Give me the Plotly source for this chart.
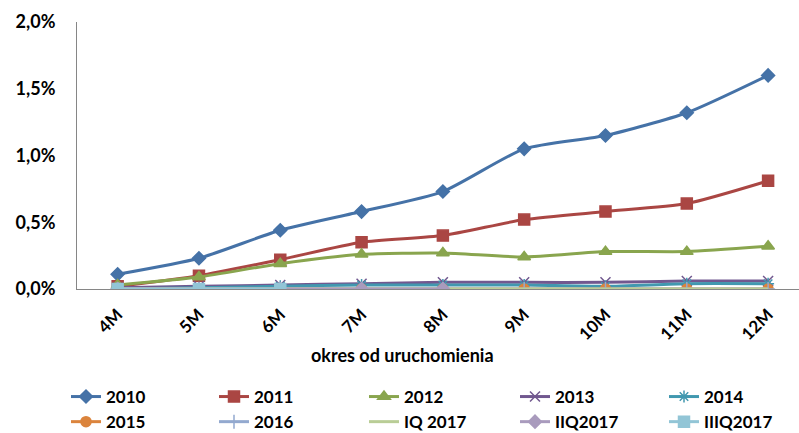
import plotly.graph_objects as go

# Months since launch
months = ["4M", "5M", "6M", "7M", "8M", "9M", "10M", "11M", "12M"]

# Cumulative share per cohort (fractions)
s2010 = [0.0011, 0.0023, 0.0044, 0.0058, 0.0073, 0.0105, 0.0115, 0.0132, 0.0160]
s2011 = [0.0002, 0.0010, 0.0022, 0.0035, 0.0040, 0.0052, 0.0058, 0.0064, 0.0081]
s2012 = [0.0003, 0.0009, 0.0019, 0.0026, 0.0027, 0.0024, 0.0028, 0.0028, 0.0032]
s2013 = [0.0001, 0.0002, 0.0003, 0.0004, 0.0005, 0.0005, 0.0005, 0.0006, 0.0006]
s2014 = [0.0000, 0.0001, 0.0002, 0.0003, 0.0003, 0.0003, 0.0002, 0.0004, 0.0004]
s2015 = [0.0000, 0.0000, 0.0000, 0.0000, 0.0000, 0.0000, 0.0000, 0.0000, 0.0000]
s2016 = [0.0000, 0.0000, 0.0000, 0.0000, 0.0000, 0.0000, 0.0000, 0.0000, 0.0000]
s_iq2017 = [0.0000, 0.0000, 0.0000, 0.0000, 0.0000, 0.0000, 0.0000, 0.0000, 0.0000]
s_iiq2017 = [0.0000, 0.0000, 0.0000, 0.0000, 0.0000]
s_iiiq2017 = [0.0000, 0.0000, 0.0000]

series = [
    ("2010", s2010, "#4572A7", "diamond", 10),
    ("2011", s2011, "#AA4643", "square", 11),
    ("2012", s2012, "#89A54E", "triangle-up", 11),
    ("2013", s2013, "#71588F", "x-thin-open", 10),
    ("2014", s2014, "#4198AF", "asterisk-open", 10),
    ("2015", s2015, "#DB843D", "circle", 10),
    ("2016", s2016, "#93A9CF", "cross-thin-open", 10),
    ("IQ 2017", s_iq2017, "#B9CD96", None, 0),
    ("IIQ2017", s_iiq2017, "#A99BBD", "diamond", 10),
    ("IIIQ2017", s_iiiq2017, "#92C5D6", "square", 11),
]

# Legend laid out as five columns of two entries each
legend_cols_px = [66, 214, 364, 515, 664]
legend_ids = ["legend"] + [f"legend{k}" for k in range(2, 6)]

fig = go.Figure()
for i, (name, vals, color, symbol, size) in enumerate(series):
    mode = "lines+markers" if symbol else "lines"
    marker = dict(color=color, size=size, symbol=symbol,
                  line=dict(color=color, width=1.5)) if symbol else None
    fig.add_trace(go.Scatter(
        x=months[:len(vals)], y=vals, name=name, mode=mode,
        line=dict(color=color, width=3, shape="spline", smoothing=0.6),
        marker=marker, legend=legend_ids[i % 5],
    ))

legend_style = dict(
    orientation="v", xref="container", yref="container",
    xanchor="left", y=1 - 379 / 433, yanchor="top",
    font=dict(size=17, family="Lato, sans-serif", weight="bold"),
    tracegroupgap=0, itemwidth=30, bgcolor="rgba(0,0,0,0)",
)
legends = {lid: dict(legend_style, x=px / 799)
           for lid, px in zip(legend_ids, legend_cols_px)}

fig.update_layout(
    width=799, height=433,
    margin=dict(l=77, r=0, t=22, b=144, autoexpand=False),
    plot_bgcolor="white", paper_bgcolor="white",
    separators=", ",
    font=dict(family="Lato, Carlito, sans-serif", size=17, color="black"),
    showlegend=True,
    annotations=[dict(
        text="<b>okres od uruchomienia</b>", x=0.451, y=-0.247,
        xref="paper", yref="paper", xanchor="center", yanchor="middle",
        showarrow=False, font=dict(size=18),
    )],
    **legends,
)
fig.update_xaxes(
    type="category", categoryorder="array", categoryarray=months,
    range=[-0.5, 8.38], showgrid=False, showline=True, automargin=False,
    linecolor="#868686", linewidth=1, ticks="", tickangle=-45,
    tickfont=dict(size=17, weight="bold"), ticklabelstandoff=8,
)
fig.update_yaxes(
    range=[0, 0.02], tickvals=[0, 0.005, 0.01, 0.015, 0.02],
    tickformat=".1%", showgrid=False, showline=True, automargin=False,
    linecolor="#868686", linewidth=1, ticks="", zeroline=False,
    tickfont=dict(size=18, weight="bold"), ticklabelstandoff=17,
)

fig.write_html("out.html")
